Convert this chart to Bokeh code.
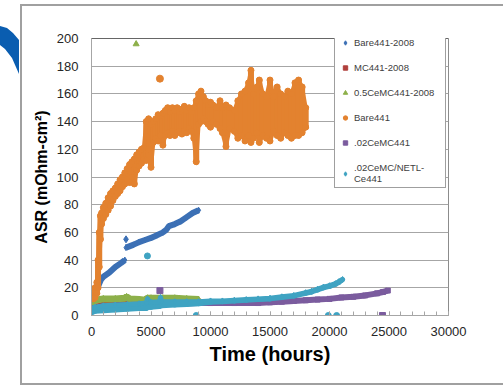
from bokeh.plotting import figure
from bokeh.models import (Range1d, FixedTicker, Legend, LegendItem, Span, InlineStyleSheet)
from bokeh.embed import file_html
from bokeh.resources import INLINE

# ---------------- data ----------------
x_ticks = [0, 5000, 10000, 15000, 20000, 25000, 30000]
y_ticks = [0, 20, 40, 60, 80, 100, 120, 140, 160, 180, 200]
x_minor = [i * 1000 for i in range(31)]

nan = float("nan")

# Bare441-2008 (two runs with a jump at ~2850 h)
bare2008_t = [0, 300, 600, 800, 1000, 1500, 2000, 2500, 2800, 2850,
              2900, 3500, 4000, 4500, 5000, 5500, 6000, 6300, 6500, 7000, 7500, 8000, 8500, 9000]
bare2008_v = [12, 17, 22, 26, 28, 31, 35, 38, 40, nan,
              49, 51, 53, 54.5, 56, 58, 60, 62, 64.5, 66, 68, 71, 74, 76]
bare2008_out_t = [2900]
bare2008_out_v = [55]

# MC441-2008
mc2008_t = [0, 300, 1000, 2000, 3000, 4000, 5000, 6000, 7000, 8000, 9000]
mc2008_v = [5, 6.5, 8, 9, 9.5, 10, 10, 10, 10, 10, 10]

# 0.5CeMC441-2008
ce05_t = [0, 300, 1000, 2000, 2800, 2950, 3200, 4000, 4500, 4700, 5000, 6000, 7000, 8000, 9000]
ce05_v = [8, 11, 12, 12, 12.5, 13.5, 12, 11.5, 11, 12.5, 12.5, 12.5, 12.5, 12, 11.5]
ce05_out_t = [3750]
ce05_out_v = [196]

# Bare441 (noisy: low / high envelope of the scattered points at each time)
bare_t = [0, 150, 300, 450, 550, 650, 750, 850, 1000, 1200, 1400, 1600, 1800, 2000,
          2200, 2400, 2600, 2800, 3000, 3200, 3400, 3600, 3800, 4000, 4200, 4400,
          4600, 4800, 5000, 5200, 5400, 5600, 5800, 6000, 6200, 6400, 6600, 6800,
          7000, 7200, 7400, 7600, 7800, 8000, 8200, 8400, 8600, 8800, 9000, 9200,
          9400, 9600, 9800, 10000, 10200, 10500, 10800, 11000, 11300, 11600, 12000,
          12300, 12600, 12900, 13200, 13400, 13600, 13900, 14100, 14400, 14700,
          15000, 15300, 15600, 15900, 16200, 16500, 16800, 17100, 17400, 17700, 18000]
bare_lo = [12, 12, 13, 16, 20, 35, 55, 66, 70, 73, 76, 79, 83, 86,
           88, 90, 93, 95, 98, 96, 100, 95, 105, 108, 110, 113,
           112, 120, 107, 125, 128, 126, 130, 123, 130, 132, 130, 133,
           130, 132, 133, 131, 133, 132, 135, 133, 128, 111, 138, 140,
           142, 140, 138, 136, 140, 138, 135, 132, 122, 135, 133,
           128, 130, 126, 130, 125, 128, 132, 125, 130, 128,
           126, 133, 130, 128, 132, 130, 128, 130, 130, 132, 136]
bare_hi = [19, 18, 20, 24, 40, 60, 72, 74, 78, 81, 85, 88, 90, 92,
           95, 98, 100, 103, 106, 109, 111, 113, 116, 118, 120, 121,
           140, 142, 138, 140, 142, 145, 144, 146, 148, 150, 147, 150,
           148, 150, 147, 149, 151, 148, 150, 147, 150, 155, 160, 162,
           158, 155, 152, 154, 152, 150, 155, 150, 152, 150, 148,
           155, 160, 162, 168, 177, 160, 165, 170, 160, 158,
           170, 158, 165, 160, 158, 162, 160, 168, 170, 165, 150]
bare_out_t = [5750]
bare_out_v = [171]

# .02CeMC441
ce02_t = [0, 1000, 3000, 5000, 7000, 9000, 10000, 12000, 14000, 15000, 16000, 17000,
          18000, 19000, 20000, 21000, 22000, 23000, 24000, 24500, 24900]
ce02_v = [5, 6.5, 7.5, 8, 8.5, 9, 9, 9, 9, 9.5, 10, 10.5,
          11, 11.5, 12, 13, 13.5, 14.5, 16, 17, 18]
ce02_out_t = [5750, 24450]
ce02_out_v = [18, 0]

# .02CeMC/NETL-Ce441
netl_t = [0, 300, 1000, 2000, 3000, 4000, 4600, 4700, 4900, 5000, 5700, 5800, 5900,
          7000, 8000, 9000, 10000, 11000, 12000, 13000, 14000, 15000, 16000, 17000,
          18000, 18500, 19000, 19500, 20000, 20500, 20800, 21100]
netl_lo = [2, 3, 3.5, 4, 4.5, 5, 5, 6, 6, 6, 6.5, 7, 7,
           7.5, 8, 8.5, 9.5, 10, 10.5, 11, 11.5, 12, 13, 14,
           16, 17, 18.5, 20, 21, 22.5, 24, 26]
netl_hi = [5, 6, 7, 7.5, 8, 8.5, 9, 12, 9.5, 9.5, 10, 13, 10,
           10, 10, 10, 10.5, 10.5, 11, 11.5, 12, 12.5, 13.5, 14.5,
           16.5, 17.5, 19, 20.5, 21.5, 23, 24.5, 26]
netl_out_t = [4700, 8800, 19900, 20600]
netl_out_v = [43, 0, 0, 0]

labels = ["Bare441-2008", "MC441-2008", "0.5CeMC441-2008", "Bare441",
          ".02CeMC441", ".02CeMC/NETL-\nCe441"]
colors = ["#3C70B5", "#B0403C", "#8DB04A", "#E3822F", "#7B5C9E", "#3FA3C2"]

# ---------------- figure ----------------
FONT = "Liberation Sans"
p = figure(width=503, height=386, output_backend="svg", toolbar_location=None,
           x_range=Range1d(0, 30000), y_range=Range1d(0, 200),
           min_border_left=91, min_border_right=55, min_border_top=38,
           min_border_bottom=71)
p.background_fill_color = "white"
p.border_fill_color = "white"
p.outline_line_color = "#8c8c8c"
p.outline_line_width = 1

# slide frame (left/top/bottom) and the blue swoosh in the corner: page decoration
deco_css = """
:host::after {
  content: ""; position: absolute; left: 20px; top: 4px; width: 483px; height: 381px;
  box-sizing: border-box; border-left: 2px solid #a0a0a0; border-top: 2px solid #a0a0a0;
  border-bottom: 2px solid #a0a0a0; pointer-events: none;
}
:host::before {
  content: ""; position: absolute; left: 0px; top: 0px; width: 20px; height: 80px;
  background: #0A5DB0; pointer-events: none; z-index: 5;
  clip-path: polygon(0px 26px, 7px 28px, 13px 33px, 19px 40px, 19px 74px, 12px 58px, 5px 49px, 0px 45px);
}
"""
p.stylesheets = [InlineStyleSheet(css=deco_css)]

p.xgrid.visible = False
p.ygrid.grid_line_color = "#a6a6a6"
p.ygrid.grid_line_width = 1
p.ygrid.ticker = FixedTicker(ticks=y_ticks)

p.xaxis.ticker = FixedTicker(ticks=x_ticks, minor_ticks=x_minor)
p.yaxis.ticker = FixedTicker(ticks=y_ticks)
for ax in (p.xaxis[0], p.yaxis[0]):
    ax.axis_line_color = "#a6a6a6"
    ax.major_label_text_font = FONT
    ax.major_label_text_font_size = "13px"
    ax.major_label_text_color = "#262626"
    ax.axis_label_text_font = FONT
    ax.axis_label_text_font_style = "bold"
    ax.axis_label_text_color = "#000000"
    ax.major_tick_line_color = "#a6a6a6"
    ax.minor_tick_line_color = "#a6a6a6"
p.xaxis.major_tick_in = 4
p.xaxis.major_tick_out = 0
p.xaxis.minor_tick_in = 4
p.xaxis.minor_tick_out = 0
p.xaxis.major_label_standoff = 11
p.xaxis.axis_label = "Time (hours)"
p.xaxis.axis_label_text_font_size = "20px"
p.xaxis.axis_label_standoff = 4
p.yaxis.major_tick_in = 0
p.yaxis.major_tick_out = 0
p.yaxis.minor_tick_line_color = None
p.yaxis.major_label_standoff = 13
p.yaxis.axis_label = "ASR (mOhm-cm²)"
p.yaxis.axis_label_text_font_size = "16px"
p.yaxis.axis_label_standoff = 4

p.add_layout(Span(location=200, dimension="width", line_color="#404040", line_width=1))

LW = 6
MS = 6
items = []

# Bare441-2008
c = colors[0]
p.line(bare2008_t, bare2008_v, line_color=c, line_width=LW)
r0 = p.scatter(bare2008_t, bare2008_v, marker="diamond", size=MS, color=c)
p.scatter(bare2008_out_t, bare2008_out_v, marker="diamond", size=7, color=c)
items.append(LegendItem(label=labels[0], renderers=[r0]))

# MC441-2008
c = colors[1]
p.line(mc2008_t, mc2008_v, line_color=c, line_width=5)
r1 = p.scatter(mc2008_t, mc2008_v, marker="square", size=5, color=c)
items.append(LegendItem(label=labels[1], renderers=[r1]))

# 0.5CeMC441-2008
c = colors[2]
p.line(ce05_t, ce05_v, line_color=c, line_width=7)
r2 = p.scatter(ce05_t, ce05_v, marker="triangle", size=MS, color=c)
p.scatter(ce05_out_t, ce05_out_v, marker="triangle", size=6, color=c)
items.append(LegendItem(label=labels[2], renderers=[r2]))

# Bare441
c = colors[3]
p.segment(bare_t, bare_lo, bare_t, bare_hi, line_color=c, line_width=6, line_cap="round")
p.line(bare_t, bare_lo, line_color=c, line_width=4)
p.line(bare_t, bare_hi, line_color=c, line_width=4)
r3 = p.scatter(bare_t, bare_hi, marker="circle", size=6, color=c)
p.scatter(bare_t, bare_lo, marker="circle", size=6, color=c)
p.scatter(bare_out_t, bare_out_v, marker="circle", size=7, color=c)
items.append(LegendItem(label=labels[3], renderers=[r3]))

# .02CeMC441
c = colors[4]
p.line(ce02_t, ce02_v, line_color=c, line_width=LW)
r4 = p.scatter(ce02_t, ce02_v, marker="square", size=5, color=c)
p.scatter(ce02_out_t, ce02_out_v, marker="square", size=6, color=c)
items.append(LegendItem(label=labels[4], renderers=[r4]))

# .02CeMC/NETL-Ce441
c = colors[5]
p.segment(netl_t, netl_lo, netl_t, netl_hi, line_color=c, line_width=5, line_cap="round")
p.varea(x=netl_t, y1=netl_lo, y2=netl_hi, fill_color=c)
p.line(netl_t, netl_lo, line_color=c, line_width=5)
p.line(netl_t, netl_hi, line_color=c, line_width=5)
r5 = p.scatter(netl_t, netl_hi, marker="diamond", size=MS, color=c)
p.scatter(netl_out_t, netl_out_v, marker="circle", size=6, color=c)
items.append(LegendItem(label=labels[5], renderers=[r5]))

legend = Legend(items=items, location=(243, 127), orientation="vertical",
                border_line_color="#404040", border_line_width=1,
                background_fill_color="white", background_fill_alpha=1,
                label_text_font=FONT, label_text_font_size="9.5px",
                label_text_color="#404040", padding=3, margin=0,
                spacing=14, label_height=11, glyph_height=11, glyph_width=14,
                label_standoff=2, label_width=88)
p.add_layout(legend, "center")

open("out.html", "w").write(file_html(p, INLINE))
